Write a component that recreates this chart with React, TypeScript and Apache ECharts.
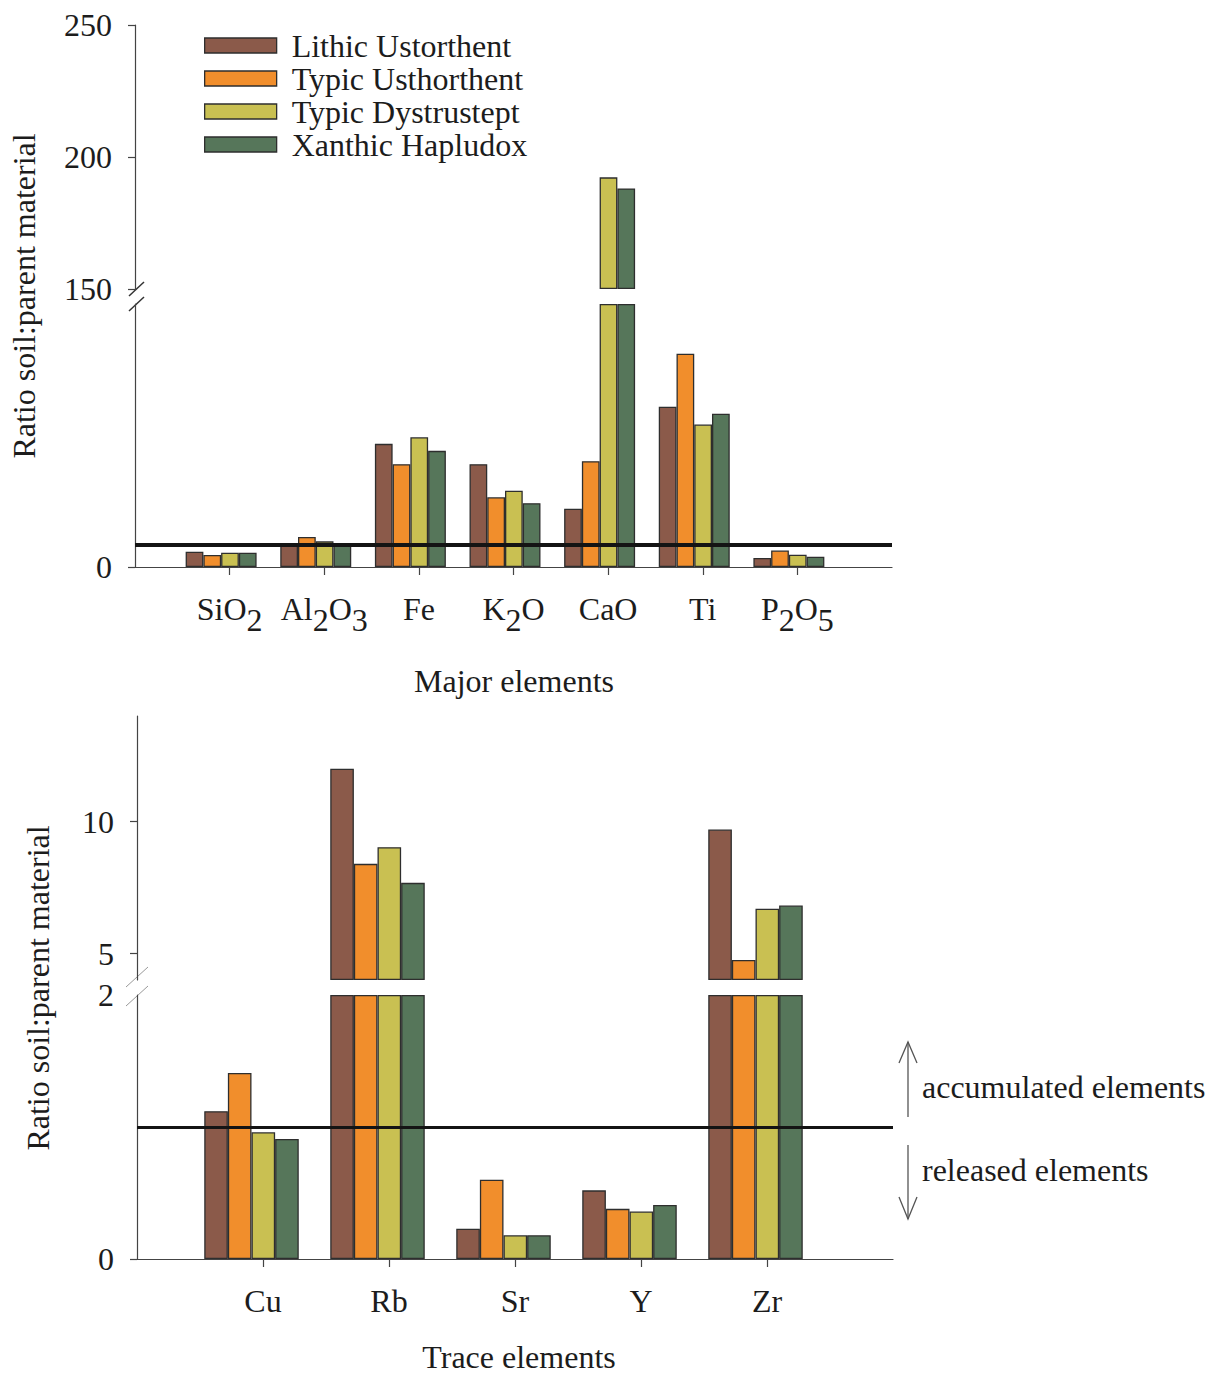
import React, { useEffect, useRef } from 'react';
import * as echarts from 'echarts';

// Soils compared in both panels
const soils = ['Lithic Ustorthent', 'Typic Usthorthent', 'Typic Dystrustept', 'Xanthic Hapludox'];
const soilColors = ['#8b5a4a', '#f18e2c', '#c9c052', '#56765a'];

// Major elements: soil / parent material ratios
const majorElements = ['SiO2', 'Al2O3', 'Fe', 'K2O', 'CaO', 'Ti', 'P2O5'];
const lithicMajor = [0.7, 0.98, 5.62, 4.69, 2.66, 7.31, 0.41];
const usthorthentMajor = [0.55, 1.37, 4.69, 3.18, 4.83, 9.73, 0.75];
const dystrusteptMajor = [0.65, 1.17, 5.92, 3.48, 192.3, 6.5, 0.56];
const hapludoxMajor = [0.65, 1.08, 5.3, 2.91, 188.1, 6.99, 0.47];

// Trace elements: soil / parent material ratios
const traceElements = ['Cu', 'Rb', 'Sr', 'Y', 'Zr'];
const lithicTrace = [1.12, 12.0, 0.23, 0.52, 9.7];
const usthorthentTrace = [1.41, 8.4, 0.6, 0.38, 4.76];
const dystrusteptTrace = [0.96, 9.03, 0.18, 0.36, 6.7];
const hapludoxTrace = [0.91, 7.68, 0.18, 0.41, 6.82];

// Broken y axes: range of each segment, and the values given ticks / labels
const majorUpperRange = [150, 250];
const majorUpperTicks = [150, 200, 250];
const majorLowerRange = [0, 12];
const majorLowerTicks = [0];
const traceUpperRange = [4, 14];
const traceUpperTicks = [5, 10];
const traceLowerRange = [0, 2];
const traceLowerTicks = [0];
const traceLowerLabels = [0, 2];

// ratio = 1 separates accumulated from released elements
const neutralRatio = 1;

const FONT = '"Liberation Serif", "Times New Roman", Times, serif';
const INK = '#1c1c1c';
const AXIS = '#444444';
const BAR_BORDER = '#2e2e2e';
const FS = 32;

const subscriptLabel = (v: string) =>
  v.replace(/(\D+)|(\d+)/g, (_m: string, a: string, d: string) => (a ? `{n|${a}}` : `{s|${d}}`));

const richLabel = {
  n: { fontSize: FS, fontFamily: FONT, color: INK, verticalAlign: 'top' },
  s: { fontSize: FS, fontFamily: FONT, color: INK, verticalAlign: 'bottom', padding: [11, 0, 0, 0] },
};

type Segment = { top: number; height: number; range: number[]; ticks: number[]; labels: number[] };
type PanelCfg = {
  left: number;
  width: number;
  shift: number;
  refWidth: number;
  categories: string[];
  values: number[][];
  upper: Segment;
  lower: Segment;
};

function buildPanel(cfg: PanelCfg, out: any) {
  const cats = ['', ...cfg.categories, ''];
  [cfg.upper, cfg.lower].forEach((seg, si) => {
    const isLower = si === 1;
    const [min, max] = seg.range;
    const axisGrid = out.grid.length;
    const barGrid = axisGrid + 1;
    out.grid.push({ left: cfg.left, top: seg.top, width: cfg.width, height: seg.height });
    out.grid.push({ left: cfg.left - cfg.shift, top: seg.top, width: cfg.width, height: seg.height });

    out.xAxis.push({
      gridIndex: axisGrid,
      type: 'category',
      data: cats,
      boundaryGap: false,
      show: isLower,
      axisLine: { show: true, lineStyle: { color: AXIS, width: 1.2 } },
      axisTick: {
        show: true,
        interval: (_i: number, v: string) => v !== '',
        length: 8,
        lineStyle: { color: AXIS, width: 1.2 },
      },
      axisLabel: {
        interval: 0,
        margin: 26,
        fontSize: FS,
        fontFamily: FONT,
        color: INK,
        verticalAlign: 'top',
        formatter: subscriptLabel,
        rich: richLabel,
      },
      splitLine: { show: false },
    });
    out.xAxis.push({ gridIndex: barGrid, type: 'category', data: cats, boundaryGap: false, show: false });

    out.yAxis.push({
      gridIndex: axisGrid,
      type: 'value',
      min,
      max,
      axisLine: { show: true, lineStyle: { color: AXIS, width: 1.2 } },
      axisTick: { show: true, customValues: seg.ticks, length: 7, lineStyle: { color: AXIS, width: 1.2 } },
      axisLabel: { customValues: seg.labels, margin: 23, fontSize: FS, fontFamily: FONT, color: INK },
      splitLine: { show: false },
    });
    out.yAxis.push({ gridIndex: barGrid, type: 'value', min, max, startValue: min, show: false });

    cfg.values.forEach((vals, k) => {
      const data = vals.map((v) => {
        if (isLower) return Math.min(v, max);
        return v > min ? Math.min(v, max) : '-';
      });
      out.series.push({
        type: 'bar',
        name: soils[k],
        xAxisIndex: barGrid,
        yAxisIndex: barGrid,
        data: ['-', ...data, '-'],
        barGap: '0%',
        barCategoryGap: '25%',
        clip: !isLower,
        itemStyle: { color: soilColors[k], borderColor: BAR_BORDER, borderWidth: 1.3 },
        emphasis: { disabled: true },
      });
    });

    if (isLower) {
      out.series.push({
        type: 'line',
        xAxisIndex: axisGrid,
        yAxisIndex: axisGrid,
        data: [],
        symbol: 'none',
        silent: true,
        z: 10,
        markLine: {
          silent: true,
          symbol: 'none',
          label: { show: false },
          lineStyle: { color: '#141414', width: cfg.refWidth, type: 'solid' },
          emphasis: { disabled: true },
          data: [{ yAxis: neutralRatio }],
        },
      });
    }
  });
}

const text = (x: number, y: number, str: string, extra: any = {}) => ({
  type: 'text',
  x,
  y,
  ...extra,
  style: {
    text: str,
    fontSize: FS,
    fontFamily: FONT,
    fill: INK,
    align: 'center',
    verticalAlign: 'middle',
    ...(extra.style || {}),
  },
});

export default function App() {
  const ref = useRef<HTMLDivElement>(null);

  useEffect(() => {
    if (!ref.current) return;
    const chart = echarts.init(ref.current, undefined, { renderer: 'svg' });

    const out: any = { grid: [], xAxis: [], yAxis: [], series: [] };

    buildPanel(
      {
        left: 135,
        width: 757,
        shift: 8.5,
        refWidth: 4,
        categories: majorElements,
        values: [lithicMajor, usthorthentMajor, dystrusteptMajor, hapludoxMajor],
        upper: { top: 25, height: 264, range: majorUpperRange, ticks: majorUpperTicks, labels: majorUpperTicks },
        lower: { top: 304, height: 263, range: majorLowerRange, ticks: majorLowerTicks, labels: majorLowerTicks },
      },
      out
    );

    buildPanel(
      {
        left: 137,
        width: 756,
        shift: 11.5,
        refWidth: 3,
        categories: traceElements,
        values: [lithicTrace, usthorthentTrace, dystrusteptTrace, hapludoxTrace],
        upper: { top: 716, height: 264, range: traceUpperRange, ticks: traceUpperTicks, labels: traceUpperTicks },
        lower: { top: 995, height: 264, range: traceLowerRange, ticks: traceLowerTicks, labels: traceLowerLabels },
      },
      out
    );

    const arrow = { stroke: '#555555', lineWidth: 1.3, fill: 'none' };

    const graphic = [
      text(24, 296, 'Ratio soil:parent material', { rotation: Math.PI / 2 }),
      text(38, 988, 'Ratio soil:parent material', { rotation: Math.PI / 2 }),
      text(514, 681, 'Major elements'),
      text(519, 1357, 'Trace elements'),
      // axis breaks
      { type: 'line', shape: { x1: 129, y1: 296, x2: 144, y2: 282 }, style: { stroke: '#333333', lineWidth: 1.5 } },
      { type: 'line', shape: { x1: 129, y1: 311, x2: 144, y2: 297 }, style: { stroke: '#333333', lineWidth: 1.5 } },
      { type: 'line', shape: { x1: 126, y1: 987, x2: 148, y2: 967 }, style: { stroke: '#999999', lineWidth: 1 } },
      { type: 'line', shape: { x1: 126, y1: 1006, x2: 148, y2: 986 }, style: { stroke: '#999999', lineWidth: 1 } },
      // accumulated / released arrows
      { type: 'line', shape: { x1: 908, y1: 1117, x2: 908, y2: 1042 }, style: arrow },
      { type: 'polyline', shape: { points: [[899, 1063], [908, 1042], [917, 1063]] }, style: arrow },
      { type: 'line', shape: { x1: 908, y1: 1145, x2: 908, y2: 1219 }, style: arrow },
      { type: 'polyline', shape: { points: [[899, 1197], [908, 1219], [917, 1197]] }, style: arrow },
      text(922, 1087, 'accumulated elements', { style: { align: 'left' } }),
      text(922, 1170, 'released elements', { style: { align: 'left' } }),
    ];

    chart.setOption({
      animation: false,
      backgroundColor: '#ffffff',
      legend: {
        data: soils,
        orient: 'vertical',
        left: 204,
        top: 29,
        padding: 0,
        itemWidth: 72,
        itemHeight: 15,
        itemGap: 0,
        icon: 'rect',
        itemStyle: { borderColor: BAR_BORDER, borderWidth: 1.3 },
        textStyle: { fontSize: FS, fontFamily: FONT, color: INK, lineHeight: 33, padding: [0, 0, 0, 10] },
        selectedMode: false,
      },
      grid: out.grid,
      xAxis: out.xAxis,
      yAxis: out.yAxis,
      series: out.series,
      graphic,
    });

    return () => chart.dispose();
  }, []);

  return (
    <div
      ref={ref}
      style={{ position: 'absolute', left: 0, top: 0, width: 1219, height: 1376, background: '#fff' }}
    />
  );
}
